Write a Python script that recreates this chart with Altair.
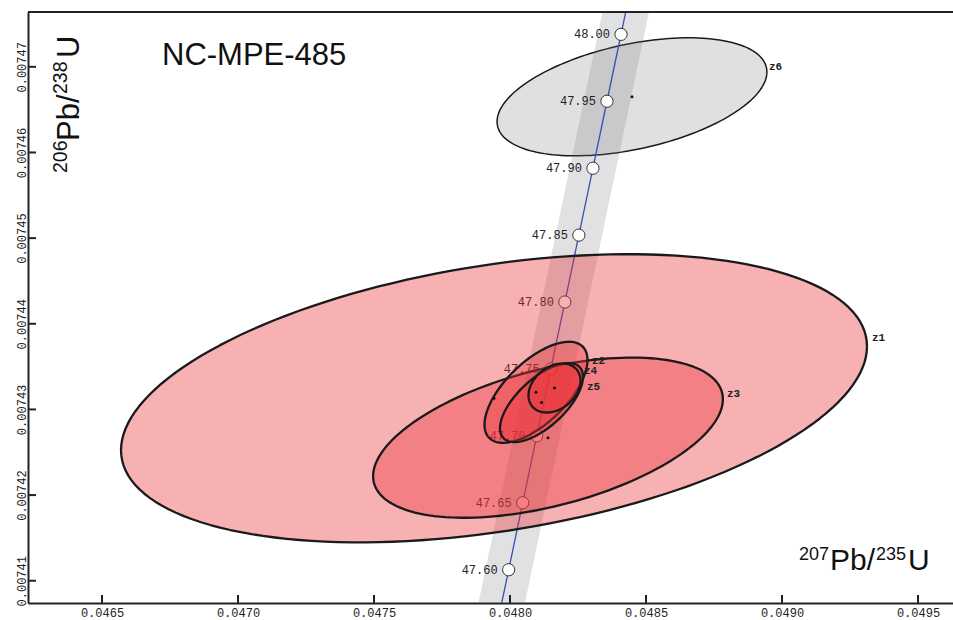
import math
import altair as alt
import pandas as pd

# ---------------- data ----------------
# Concordia reference ages (Ma) and their ratio coordinates
marker_age = ["47.60", "47.65", "47.70", "47.75", "47.80", "47.85", "47.90", "47.95", "48.00"]
marker_x = [0.0479951, 0.0480467, 0.0480983, 0.0481499, 0.0482016, 0.0482532, 0.0483049, 0.0483565, 0.0484082]
marker_y = [0.00741128, 0.00741910, 0.00742691, 0.00743472, 0.00744254, 0.00745035, 0.00745816, 0.00746598, 0.00747379]

# concordia curve (47.55 - 48.05 Ma) and its uncertainty envelope
curve_x = [0.0479435, 0.0479951, 0.0480467, 0.0480983, 0.0481499, 0.0482016, 0.0482532, 0.0483049, 0.0483565, 0.0484082, 0.0484599]
curve_y = [0.00740347, 0.00741128, 0.00741910, 0.00742691, 0.00743472, 0.00744254, 0.00745035, 0.00745816, 0.00746598, 0.00747379, 0.00748161]
band_lo = [0.0478580, 0.0479096, 0.0479612, 0.0480128, 0.0480644, 0.0481161, 0.0481677, 0.0482194, 0.0482710, 0.0483227, 0.0483744]
band_hi = [0.0480290, 0.0480806, 0.0481322, 0.0481838, 0.0482354, 0.0482871, 0.0483387, 0.0483904, 0.0484420, 0.0484937, 0.0485454]

# analyses: centre, half-extents of the error ellipse and error correlation
ell_name = ["z6", "z1", "z3", "z2", "z5", "z4"]
ell_cx = [0.0484485, 0.0479412, 0.0481397, 0.0480956, 0.0481158, 0.0481636]
ell_cy = [0.0074665, 0.0074313, 0.0074267, 0.0074320, 0.0074308, 0.0074325]
ell_ax = [0.000496, 0.0013713, 0.000643, 0.0001893, 0.0001526, 0.0000956]
ell_ay = [0.00000689, 0.00001682, 0.00000935, 0.0000059, 0.00000461, 0.00000286]
ell_rho = [0.42, 0.36, 0.48, 0.64, 0.65, 0.30]

# where each analysis label sits
lab_x = [0.0489522, 0.0493309, 0.0487978, 0.0483015, 0.0482831, 0.0482721]
lab_y = [0.00746996, 0.0074383, 0.00743176, 0.0074357, 0.00743258, 0.00743445]

x_ticks = [0.0465, 0.0470, 0.0475, 0.0480, 0.0485, 0.0490, 0.0495]
y_ticks = [0.00741, 0.00742, 0.00743, 0.00744, 0.00745, 0.00746, 0.00747]
x_domain = [0.0462279, 0.0496287]
y_domain = [0.0074074, 0.0074764]

sample_title = "NC-MPE-485"

# ---------------- helpers ----------------
W, H = 925, 591
INK = "#222222"

xscale = alt.Scale(domain=x_domain, nice=False, zero=False)
yscale = alt.Scale(domain=y_domain, nice=False, zero=False)
xaxis = alt.Axis(values=x_ticks, format=".4f", labelFont="Liberation Mono", labelFontSize=12,
                 labelColor=INK, labelPadding=4, ticks=False, tickSize=0, domainColor=INK,
                 domainWidth=2, grid=False, title=None, labelFlush=False, labelOverlap=False)
yaxis = alt.Axis(values=y_ticks, format=".5f", labelFont="Liberation Mono", labelFontSize=12,
                 labelColor=INK, labelPadding=3, labelAngle=270, labelAlign="center",
                 labelBaseline="alphabetic", ticks=False, tickSize=0, domainColor=INK,
                 domainWidth=2, grid=False, title=None, labelFlush=False, labelOverlap=False)


def X(f):
    return alt.X(f, type="quantitative", scale=xscale, axis=xaxis)


def Y(f):
    return alt.Y(f, type="quantitative", scale=yscale, axis=yaxis)


one = pd.DataFrame({"a": [0]})

# ---------------- tables ----------------
curve_df = pd.DataFrame({"x": curve_x, "y": curve_y, "lo": band_lo, "hi": band_hi,
                         "i": list(range(len(curve_x)))})
marker_df = pd.DataFrame({"x": marker_x, "y": marker_y, "age": marker_age})

N = 160
ell_rows = []
for k, name in enumerate(ell_name):
    s = math.sqrt(1 - ell_rho[k] ** 2)
    for j in range(N + 1):
        t = 2 * math.pi * j / N
        ell_rows.append({
            "id": name, "i": j,
            "x": ell_cx[k] + ell_ax[k] * math.cos(t),
            "y": ell_cy[k] + ell_ay[k] * (ell_rho[k] * math.cos(t) + s * math.sin(t)),
        })
ell_df = pd.DataFrame(ell_rows)
centre_df = pd.DataFrame({"id": ell_name, "x": ell_cx, "y": ell_cy})
label_df = pd.DataFrame({"id": ell_name, "x": lab_x, "y": lab_y})


def ellipse(name, fill, fill_opacity, width):
    return alt.Chart(ell_df[ell_df["id"] == name]).mark_line(
        fill=fill, fillOpacity=fill_opacity, stroke="#1a1a1a", strokeWidth=width,
        strokeJoin="round", clip=True
    ).encode(x=X("x"), y=Y("y"), order=alt.Order("i:Q"))


layers = []
# z6 (grey) below the concordia envelope
layers.append(ellipse("z6", "#e0e0e0", 1.0, 1.5))

band = alt.Chart(curve_df).mark_area(orient="horizontal", color="#7a7c82", opacity=0.226,
                                     clip=True).encode(y=Y("y"), x=X("lo"), x2=alt.X2("hi"))
line = alt.Chart(curve_df).mark_line(color="#3550b0", strokeWidth=1.3, clip=True).encode(
    x=X("x"), y=Y("y"), order=alt.Order("i:Q"))
markers = alt.Chart(marker_df).mark_circle(color="white", opacity=1, stroke="#333333",
                                           strokeWidth=1, size=150).encode(x=X("x"), y=Y("y"))
mlabels = alt.Chart(marker_df).mark_text(align="right", baseline="middle", dx=-11,
                                         font="Liberation Mono", fontSize=12, color=INK).encode(
    x=X("x"), y=Y("y"), text="age:N")
layers += [band, line, markers, mlabels]

for nm in ["z1", "z3", "z2", "z5", "z4"]:
    layers.append(ellipse(nm, "#eb3237", 0.38, 2.3))

dots = alt.Chart(centre_df).mark_circle(color="#111111", opacity=1, size=9).encode(x=X("x"), y=Y("y"))
elabels = alt.Chart(label_df).mark_text(align="left", baseline="middle",
                                        font="Liberation Mono", fontSize=11, fontWeight="bold",
                                        color=INK).encode(
    x=X("x"), y=Y("y"), text="id:N")
layers += [dots, elabels]

# inward ticks
xt = alt.Chart(pd.DataFrame({"x": x_ticks})).mark_rule(color=INK, strokeWidth=2).encode(
    x=X("x"), y=alt.value(H), y2=alt.value(H - 8))
yt = alt.Chart(pd.DataFrame({"y": y_ticks})).mark_rule(color=INK, strokeWidth=2).encode(
    y=Y("y"), x=alt.value(0), x2=alt.value(8))
topframe = alt.Chart(one).mark_rule(color=INK, strokeWidth=2).encode(
    x=alt.value(0), x2=alt.value(W), y=alt.value(0))
layers += [xt, yt, topframe]


def piece(txt, px, py, size, angle=0):
    kw = dict(align="left", baseline="alphabetic", font="Liberation Sans", fontSize=size,
              color="#111111", text=txt)
    if angle:
        kw["angle"] = angle
    return alt.Chart(one).mark_text(**kw).encode(x=alt.value(px), y=alt.value(py))


layers += [
    piece(sample_title, 134, 53, 31),
    # x title: 207Pb/235U
    piece("207", 771, 548, 18),
    piece("Pb/", 802, 558, 30),
    piece("235", 848, 548, 18),
    piece("U", 880, 558, 30),
    # y title: 206Pb/238U (rotated)
    piece("206", 39, 161, 19.5, 270),
    piece("Pb/", 51, 129, 31, 270),
    piece("238", 39, 82, 19.5, 270),
    piece("U", 51, 46, 31, 270),
]

chart = alt.layer(*layers).properties(
    width=W, height=H,
    autosize=alt.AutoSizeParams(type="none"),
    padding={"left": 28, "top": 12, "right": 0, "bottom": 17},
    background="white",
).configure_view(stroke=None)

chart.save("out.html", embed_options={"renderer": "svg", "actions": False})
